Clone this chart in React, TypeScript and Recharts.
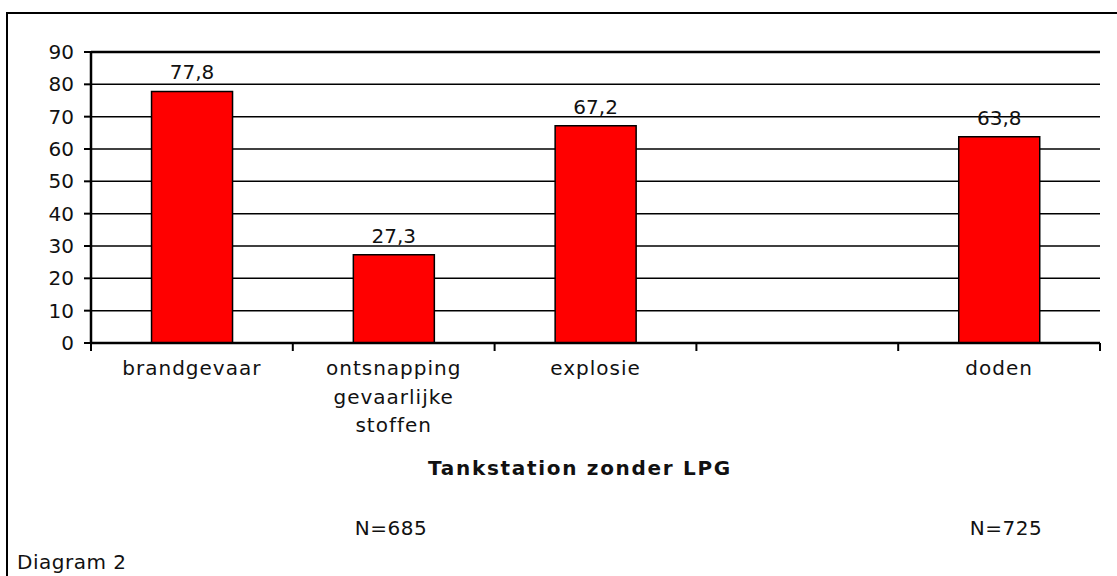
import React from 'react';
import { BarChart, Bar, XAxis, YAxis, CartesianGrid, LabelList, ReferenceLine } from 'recharts';

// categories (line breaks as in the original axis labels); the 4th slot is empty
const categories = ['brandgevaar', 'ontsnapping\ngevaarlijke\nstoffen', 'explosie', '', 'doden'];
const percentages: (number | null)[] = [77.8, 27.3, 67.2, null, 63.8];
const yTicks = [0, 10, 20, 30, 40, 50, 60, 70, 80, 90];
const sampleNotes = [
  { text: 'N=685', x: 391 },
  { text: 'N=725', x: 1006 },
];

const data = categories.map((category, i) => ({ category, value: percentages[i] }));

const FONT = '"DejaVu Sans", Verdana, sans-serif';
const W = 1117;
const H = 576;
const PLOT_LEFT = 91;
const PLOT_RIGHT = 1100;
const SLOT = (PLOT_RIGHT - PLOT_LEFT) / categories.length;

const textStyle: React.CSSProperties = {
  position: 'absolute',
  fontFamily: FONT,
  fontSize: 20,
  letterSpacing: 0.5,
  color: '#111',
  whiteSpace: 'nowrap',
};

function CategoryTick(props: any) {
  const { x, y, payload, index } = props;
  const lines = String(payload.value).split('\n');
  const left = x - SLOT / 2;
  return (
    <g>
      <line x1={left} y1={y} x2={left} y2={y + 8} stroke="#000" strokeWidth={2} />
      {index === categories.length - 1 && (
        <line x1={x + SLOT / 2} y1={y} x2={x + SLOT / 2} y2={y + 8} stroke="#000" strokeWidth={2} />
      )}
      <text x={x} y={y} textAnchor="middle" fill="#111" fontFamily={FONT} fontSize={20} letterSpacing={1}>
        {lines.map((line, i) => (
          <tspan key={i} x={x} y={y + 32 + i * 28.5}>
            {line}
          </tspan>
        ))}
      </text>
    </g>
  );
}

export default function App() {
  return (
    <div
      style={{
        position: 'absolute',
        left: 0,
        top: 0,
        width: W,
        height: H,
        overflow: 'hidden',
        background: '#fff',
      }}
    >
      <div
        style={{
          position: 'absolute',
          left: 6,
          top: 12,
          width: W + 50,
          height: H + 50,
          borderLeft: '2px solid #000',
          borderTop: '2px solid #000',
        }}
      />
      <div style={{ position: 'absolute', left: 0, top: 0 }}>
        <BarChart
          width={W}
          height={H}
          data={data}
          margin={{ top: 52, right: W - PLOT_RIGHT, left: PLOT_LEFT - 60, bottom: 133 }}
          barCategoryGap="30%"
        >
          <CartesianGrid yAxisId="left" vertical={false} stroke="#000" strokeWidth={1.5} />
          <XAxis
            dataKey="category"
            interval={0}
            height={100}
            tickSize={0}
            tickMargin={0}
            tickLine={false}
            axisLine={{ stroke: '#000', strokeWidth: 2.5 }}
            tick={<CategoryTick />}
          />
          <YAxis
            yAxisId="left"
            domain={[0, 90]}
            ticks={yTicks}
            interval={0}
            width={60}
            tickSize={7}
            tickMargin={10}
            axisLine={{ stroke: '#000', strokeWidth: 2.5 }}
            tickLine={{ stroke: '#000', strokeWidth: 2 }}
            tick={{ fill: '#111', fontSize: 20, fontFamily: FONT }}
          />
          <YAxis
            yAxisId="right"
            orientation="right"
            domain={[0, 90]}
            width={0}
            tick={false}
            tickLine={false}
            axisLine={{ stroke: '#000', strokeWidth: 2.5 }}
          />
          <ReferenceLine yAxisId="left" y={90} stroke="#000" strokeWidth={2.5} />
          <Bar
            yAxisId="left"
            dataKey="value"
            fill="#FF0000"
            stroke="#000"
            strokeWidth={1.5}
            isAnimationActive={false}
          >
            <LabelList
              dataKey="value"
              position="top"
              offset={12}
              fill="#111"
              fontSize={20}
              fontFamily={FONT}
              formatter={(v: any) => (v == null ? '' : String(v).replace('.', ','))}
            />
          </Bar>
        </BarChart>
      </div>
      <div
        style={{
          ...textStyle,
          left: 580,
          top: 468,
          transform: 'translate(-50%, -50%)',
          fontWeight: 'bold',
          letterSpacing: 1.7,
        }}
      >
        Tankstation zonder LPG
      </div>
      {sampleNotes.map((n) => (
        <div
          key={n.text}
          style={{ ...textStyle, left: n.x, top: 528, transform: 'translate(-50%, -50%)' }}
        >
          {n.text}
        </div>
      ))}
      <div style={{ ...textStyle, left: 17, top: 562, transform: 'translateY(-50%)' }}>Diagram 2</div>
    </div>
  );
}
